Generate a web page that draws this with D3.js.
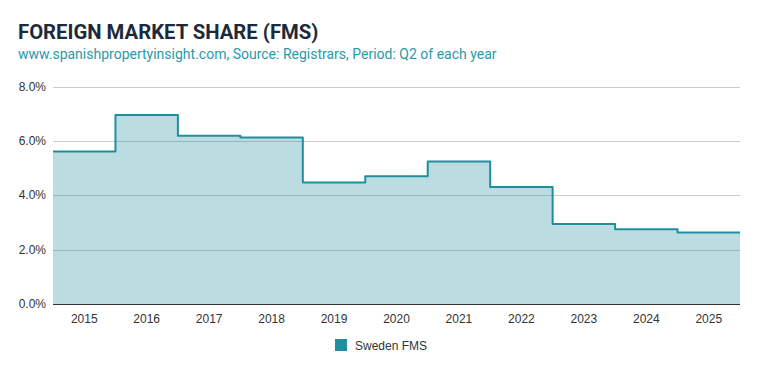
<!DOCTYPE html>
<html><head><meta charset="utf-8">
<script src="https://cdn.jsdelivr.net/npm/d3@7"></script>
<style>
body{margin:0;background:#fff;}
svg{display:block;}
</style></head>
<body>
<svg id="chart" width="759" height="371"></svg>
<script>
const years = ["2015","2016","2017","2018","2019","2020","2021","2022","2023","2024","2025"];
const swedenFMS = [5.61, 6.95, 6.19, 6.12, 4.47, 4.70, 5.24, 4.30, 2.94, 2.75, 2.63];
const yTicks = [0, 2, 4, 6, 8];
const seriesName = "Sweden FMS";
const title = "FOREIGN MARKET SHARE (FMS)";
const subtitle = "www.spanishpropertyinsight.com, Source: Registrars, Period: Q2 of each year";

const svg = d3.select("#chart");
const m = {left: 53, right: 19, top: 86.5, bottom: 67};
const W = 759, H = 371;
const x = d3.scaleBand().domain(years).range([m.left, W - m.right]).padding(0);
const y = d3.scaleLinear().domain([0, 8]).range([H - m.bottom, m.top]);
const color = "#1f8f9f";
const axisFont = "Arial, 'Liberation Sans', sans-serif";

svg.append("text").attr("x", 18).attr("y", 39).text(title)
  .attr("font-family", "Roboto, sans-serif").attr("font-weight", 700)
  .attr("font-size", 20.3).attr("fill", "#1c2b3b");
svg.append("text").attr("x", 18).attr("y", 59).text(subtitle)
  .attr("font-family", "Roboto, sans-serif").attr("font-size", 14).attr("fill", "#2a9aa8");

// gridlines
svg.append("g").selectAll("line").data(yTicks.filter(d => d > 0)).join("line")
  .attr("x1", m.left).attr("x2", W - m.right)
  .attr("y1", d => Math.round(y(d)) + 0.5).attr("y2", d => Math.round(y(d)) + 0.5)
  .attr("stroke", "#cccccc").attr("stroke-width", 1);

// y labels
svg.append("g").selectAll("text").data(yTicks).join("text")
  .attr("x", 46).attr("y", d => y(d) + 4)
  .attr("text-anchor", "end").attr("font-family", axisFont).attr("font-size", 12)
  .attr("fill", "#333").text(d => d.toFixed(1) + "%");

// step points
const pts = [];
years.forEach((yr, i) => {
  pts.push([x(yr), swedenFMS[i]]);
  pts.push([x(yr) + x.bandwidth(), swedenFMS[i]]);
});
const area = d3.area().x(d => d[0]).y0(y(0)).y1(d => y(d[1]));
const line = d3.line().x(d => d[0]).y(d => y(d[1]));
svg.append("path").datum(pts).attr("d", area).attr("fill", color).attr("fill-opacity", 0.3);
svg.append("path").datum(pts).attr("d", line).attr("fill", "none")
  .attr("stroke", color).attr("stroke-width", 2).attr("stroke-linejoin", "round");

// x axis baseline
svg.append("line").attr("x1", m.left).attr("x2", W - m.right)
  .attr("y1", Math.round(y(0)) + 0.5).attr("y2", Math.round(y(0)) + 0.5)
  .attr("stroke", "#333").attr("stroke-width", 1);

svg.append("g").selectAll("text").data(years).join("text")
  .attr("x", d => x(d) + x.bandwidth() / 2).attr("y", 323)
  .attr("text-anchor", "middle").attr("font-family", axisFont).attr("font-size", 12)
  .attr("fill", "#333").text(d => d);

// legend
const lg = svg.append("g");
lg.append("rect").attr("x", 335).attr("y", 339).attr("width", 12).attr("height", 12).attr("fill", color);
lg.append("text").attr("x", 355).attr("y", 349.5).text(seriesName)
  .attr("font-family", axisFont).attr("font-size", 12).attr("fill", "#333");
</script>
</body></html>
